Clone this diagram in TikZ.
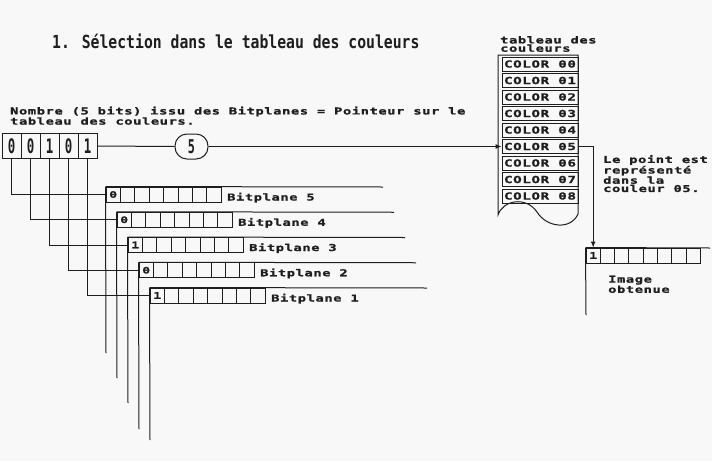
\documentclass[tikz,border=0pt]{standalone}
\usepackage{fontspec}
\usetikzlibrary{arrows.meta}
\newfontfamily\titlefont{DejaVu Sans Mono Bold}[FakeStretch=0.82]
\newfontfamily\bitfont{DejaVu Sans Mono Bold}[FakeStretch=0.62]
\newfontfamily\lblfont{DejaVu Sans Mono Bold}[FakeStretch=1.45,LetterSpace=6,FakeBold=1.2]
\definecolor{ink}{RGB}{30,30,30}
\definecolor{paper}{RGB}{248,248,248}
\tikzset{
 every node/.style={inner sep=0pt, text=ink},
 ln/.style={draw=ink, line width=1pt},
 bitbox/.style={draw=ink, line width=1pt, minimum width=19pt, minimum height=25pt, font=\bitfont\fontsize{20}{20}\selectfont},
 colorbox/.style={draw=ink, line width=1pt, minimum width=76pt, minimum height=14pt, font=\lblfont\fontsize{9.8}{8}\selectfont},
 cellbox/.style={draw=ink, line width=1pt, minimum width=14.4pt, minimum height=15pt, font=\lblfont\fontsize{9}{8}\selectfont},
 lbl/.style={font=\lblfont\fontsize{9.5}{8.3}\selectfont, align=left, anchor=north west},
 arr/.style={ln, -{Latex[length=6pt,width=5pt]}},
}
\begin{document}
\begin{tikzpicture}[x=1pt,y=-1pt]
\fill[paper] (0,0) rectangle (712,461);
\useasboundingbox (0,0) rectangle (712,461);

% title
\node[anchor=base west, font=\titlefont\fontsize{18}{18}\selectfont] (title) at (52,48) {1. Sélection dans le tableau des couleurs};

% subtitle
\node[lbl, font=\lblfont\fontsize{9.5}{7.3}\selectfont] (sub) at (10,106.5) {Nombre (5 bits) issu des Bitplanes = Pointeur sur le\\tableau des couleurs.};

% bits
\foreach \v [count=\n from 0] in {0,0,1,0,1}
  \node[bitbox] (b\n) at (11.5+19*\n,146) {\v};

% pointer value
\node[draw=ink, line width=1pt, rounded corners=12pt, minimum width=33pt, minimum height=25pt, font=\bitfont\fontsize{19}{19}\selectfont] (five) at (191.5,146.5) {5};
\draw[ln] (b4.east) -- (five.west);

% colour table
\node[lbl] (tabt) at (500,36) {tableau des\\couleurs};
\foreach \k in {0,...,8}
  \node[colorbox] (c\k) at (540,64+16.5*\k) {COLOR 0\k};
\draw[ln] (578,214) -- (578,55) -- (498,55) -- (498,215)
  .. controls (503,200) and (526,196) .. (537,212)
  .. controls (547,228) and (571,230) .. (578,214);
\draw[arr] (five.east) -- (c5.west);

\node[lbl] (lp) at (603,155) {Le point est\\représenté\\dans la\\couleur 05.};

% image obtained
\node[cellbox] (img) at (593.2,255.5) {1};
\foreach \j in {1,...,7}
  \draw[ln] (586+14.3*\j,248) rectangle ++(14.3,15);
\draw[ln] (img.north west) -- (710,248);
\draw[ln] (img.north west) -- (586,315);
\draw[arr] (c5.east) -| (img.north);
\node[lbl, font=\lblfont\fontsize{9.5}{8.8}\selectfont] (io) at (608,275.5) {Image\\obtenue};

% bitplanes
\foreach \n/\k/\v/\bot in {0/5/0/353, 1/4/0/378, 2/3/1/403, 3/2/0/429, 4/1/1/440} {
  \node[cellbox] (p\k) at (106+11*\n+7.2, 187+25.25*\n+7.5) {\v};
  \foreach \j in {1,...,7}
    \draw[ln] (106+11*\n+14.4*\j, 187+25.25*\n) rectangle ++(14.4,15);
  \draw[ln] (p\k.north west) -- (383+11*\n, 187+25.25*\n);
  \draw[ln] (p\k.north west) -- (106+11*\n, \bot);
  \node[anchor=base west, font=\lblfont\fontsize{9.5}{8}\selectfont] (bl\k) at (106+11*\n+121, 187+25.25*\n+13.5) {Bitplane \k};
  \draw[ln] (b\n.south) |- (p\k.west);
}
\end{tikzpicture}
\end{document}
